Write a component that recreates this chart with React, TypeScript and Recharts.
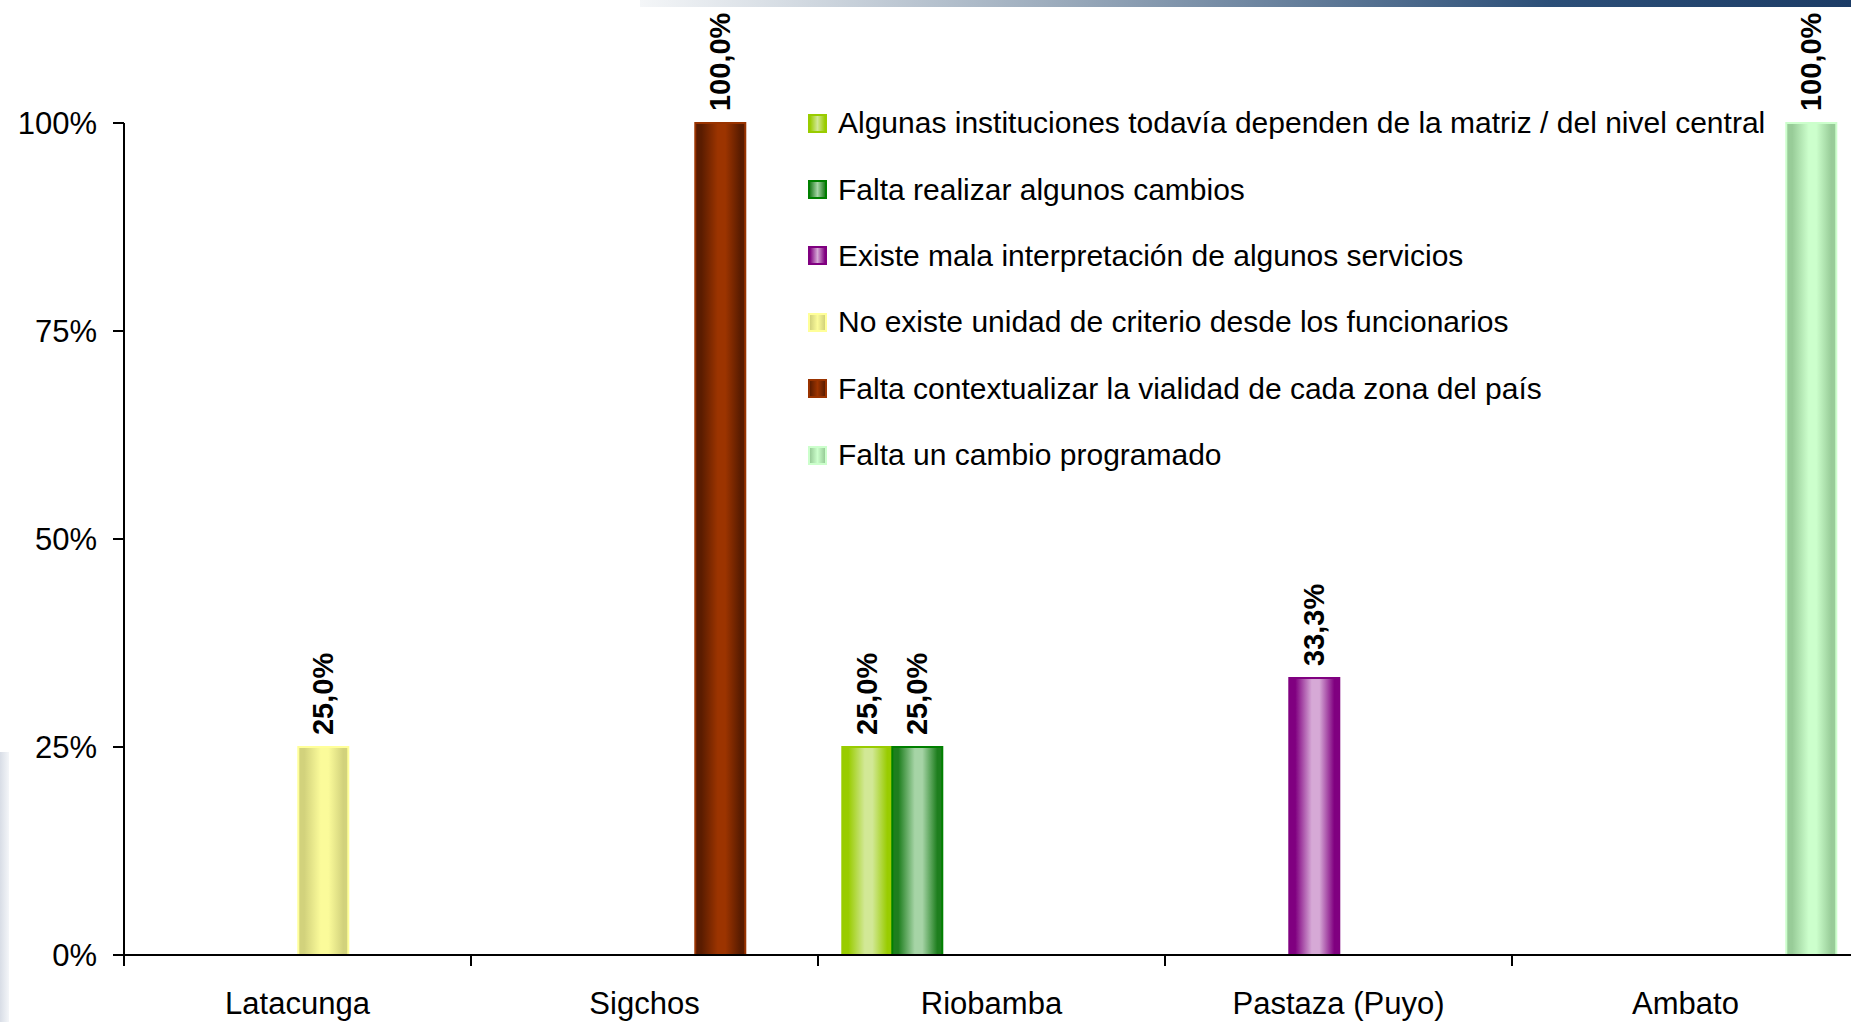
import { BarChart, Bar, XAxis, YAxis, Legend, LabelList } from 'recharts'

const categories = ['Latacunga', 'Sigchos', 'Riobamba', 'Pastaza (Puyo)', 'Ambato']

const seriesNames = [
  'Algunas instituciones todavía dependen de la matriz / del nivel central',
  'Falta realizar algunos cambios',
  'Existe mala interpretación de algunos servicios',
  'No existe unidad de criterio desde los funcionarios',
  'Falta contextualizar la vialidad de cada zona del país',
  'Falta un cambio programado',
]

const dependenMatriz   = [0, 0, 0.25, 0, 0]
const faltaCambios     = [0, 0, 0.25, 0, 0]
const malaInterpret    = [0, 0, 0, 0.333, 0]
const sinCriterio      = [0.25, 0, 0, 0, 0]
const faltaContexto    = [0, 1, 0, 0, 0]
const cambioProgramado = [0, 0, 0, 0, 1]

const yTicks = [0, 0.25, 0.5, 0.75, 1]

const seriesValues = [dependenMatriz, faltaCambios, malaInterpret, sinCriterio, faltaContexto, cambioProgramado]

// edge / centre / border colours of the cylinder-look bars
const palette = [
  { edge: '#99CC00', mid: '#D2E896', stroke: '#99CC00' },
  { edge: '#1E7E1E', mid: '#A6D4A6', stroke: '#008000' },
  { edge: '#800080', mid: '#D6A9D6', stroke: '#800080' },
  { edge: '#D2D27C', mid: '#FBFB9A', stroke: '#FFFF99' },
  { edge: '#5A1C00', mid: '#9C3400', stroke: '#993300' },
  { edge: '#98CC98', mid: '#CCFFCC', stroke: '#CCFFCC' },
]

const data = categories.map((name, i) => {
  const row: Record<string, any> = { name }
  seriesValues.forEach((vals, s) => { row[`s${s}`] = vals[i] })
  return row
})

const FONT = '"Liberation Sans", Arial, sans-serif'

function pct(v: number) {
  return `${(v * 100).toFixed(1).replace('.', ',')}%`
}

function ValueLabel(props: any) {
  const { x, y, width, value } = props
  if (!value) return null
  const cx = x + width / 2
  const cy = y - 12
  return (
    <text x={cx} y={cy} transform={`rotate(-90, ${cx}, ${cy})`} textAnchor="start" dominantBaseline="central"
      fontFamily={FONT} fontSize={29} fontWeight="bold" fill="#000">
      {pct(value)}
    </text>
  )
}

function CategoryTick(props: any) {
  const { x, y, payload } = props
  const half = payload?.offset ?? 0
  return (
    <g>
      <line x1={x - half} x2={x - half} y1={y} y2={y + 11} stroke="#000" strokeWidth={2} />
      <text x={x} y={y + 59} textAnchor="middle" fontFamily={FONT} fontSize={31} fill="#000">{payload.value}</text>
    </g>
  )
}

function SideLegend() {
  return (
    <div style={{ fontFamily: FONT, fontSize: 30, color: '#000' }}>
      {seriesNames.map((n, i) => (
        <div key={n} style={{ display: 'flex', alignItems: 'center', height: 66.4, whiteSpace: 'nowrap' }}>
          <span style={{
            display: 'inline-block', width: 15, height: 15, marginRight: 11, border: `2px solid ${palette[i].stroke}`,
            background: `linear-gradient(to right, ${palette[i].edge}, ${palette[i].mid} 50%, ${palette[i].edge})`,
          }} />
          {n}
        </div>
      ))}
    </div>
  )
}

export default function App() {
  return (
    <div style={{ position: 'absolute', left: 0, top: 0, width: 1851, height: 1022, overflow: 'hidden', background: '#fff' }}>
      <div style={{ position: 'absolute', left: 640, top: 0, width: 1211, height: 7,
        background: 'linear-gradient(to right, #f4f6f8, #9aaabb 35%, #2c4f78 75%, #1c3c66)' }} />
      <div style={{ position: 'absolute', left: 0, top: 752, width: 9, height: 270,
        background: 'linear-gradient(to right, #d8dde6, #f4f6f9)' }} />

      <BarChart width={1900} height={1022} data={data} barCategoryGap="7%" barGap={0}
        margin={{ top: 123, right: 41, bottom: 0, left: 0 }}>
        <defs>
          {palette.map((p, i) => (
            <linearGradient key={i} id={`g${i}`} x1="0" y1="0" x2="1" y2="0">
              <stop offset="0" stopColor={p.edge} />
              <stop offset="0.12" stopColor={p.edge} />
              <stop offset="0.45" stopColor={p.mid} />
              <stop offset="0.6" stopColor={p.mid} />
              <stop offset="0.9" stopColor={p.edge} />
              <stop offset="1" stopColor={p.edge} />
            </linearGradient>
          ))}
        </defs>
        <XAxis dataKey="name" height={67} tickLine={false} tickSize={0} tickMargin={0}
          axisLine={{ stroke: '#000', strokeWidth: 2 }} tick={<CategoryTick />} interval={0} />
        <YAxis width={124} domain={[0, 1]} ticks={yTicks} tickFormatter={(v: number) => `${Math.round(v * 100)}%`}
          axisLine={{ stroke: '#000', strokeWidth: 2 }} tickLine={{ stroke: '#000', strokeWidth: 2 }}
          tickSize={11} tickMargin={16}
          tick={{ fontFamily: FONT, fontSize: 31, fill: '#000' }} />
        <Legend layout="vertical" align="center" verticalAlign="middle"
          wrapperStyle={{ left: 808, top: 90, width: 1040 }} content={() => <SideLegend />} />
        {seriesNames.map((n, i) => (
          <Bar key={n} dataKey={`s${i}`} name={n} fill={`url(#g${i})`} stroke={palette[i].stroke} strokeWidth={2}
            isAnimationActive={false}>
            <LabelList dataKey={`s${i}`} content={<ValueLabel />} />
          </Bar>
        ))}
      </BarChart>
    </div>
  )
}
